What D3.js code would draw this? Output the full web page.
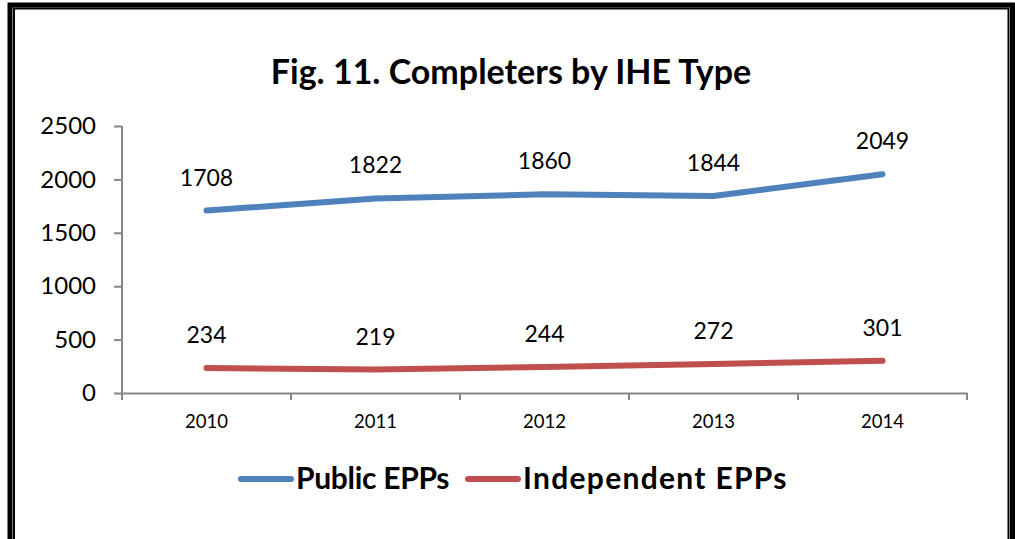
<!DOCTYPE html>
<html><head><meta charset="utf-8">
<script src="https://cdn.jsdelivr.net/npm/d3@7"></script>
<style>body{margin:0;background:#fff}svg{display:block}text{font-family:Lato,"Open Sans",sans-serif}</style>
</head><body><svg id="c" width="1015" height="539"></svg>
<script>
const categories = ["2010","2011","2012","2013","2014"];
const publicEPPs = [1708,1822,1860,1844,2049];
const independentEPPs = [234,219,244,272,301];
const yTicks = [0,500,1000,1500,2000,2500];
const seriesNames = ["Public EPPs","Independent EPPs"];
const colors = ["#4F81BD","#C0504D"];
const title = "Fig. 11. Completers by IHE Type";

const svg = d3.select("#c");
svg.append("rect").attr("x",0).attr("y",0).attr("width",1015).attr("height",539).attr("fill","#fff");
svg.append("path").attr("d","M10,545 V5 H1012.5 V545").attr("fill","none").attr("stroke","#000").attr("stroke-width",5);
svg.append("path").attr("d","M14,545 V8.5 H1008.5 V545").attr("fill","none").attr("stroke","#000").attr("stroke-width",2);

svg.append("text").attr("x",511).attr("y",84).attr("text-anchor","middle")
  .attr("font-size",34).attr("font-weight","bold").text(title);

const x = d3.scaleBand().domain(categories).range([122,967]);
const y = d3.scaleLinear().domain([0,2500]).range([393,126]);

const yAxis = svg.append("g").attr("transform","translate(122,0)")
  .call(d3.axisLeft(y).tickValues(yTicks).tickFormat(d3.format("d")).tickSize(8).tickSizeOuter(0).tickPadding(18));
const xAxis = svg.append("g").attr("transform","translate(0,393)")
  .call(d3.axisBottom(x).tickSize(0).tickPadding(22));
[yAxis,xAxis].forEach(g=>{g.selectAll("path,line").attr("stroke","#868686").attr("stroke-width",2);});
yAxis.select(".domain").attr("d","M0,126V393");
yAxis.selectAll("text").attr("font-size",24).attr("fill","#000").style("font-family","Lato,sans-serif");
xAxis.selectAll("text").attr("font-size",18.5).attr("fill","#000").style("font-family","Lato,sans-serif");
const bounds = categories.map(c=>x(c)).concat([x.range()[1]]);
xAxis.selectAll(".bt").data(bounds).enter().append("line")
  .attr("x1",d=>d).attr("x2",d=>d).attr("y1",0).attr("y2",7)
  .attr("stroke","#868686").attr("stroke-width",2);

const cx = c => x(c)+x.bandwidth()/2;
const line = d3.line().x((d,i)=>cx(categories[i])).y(d=>y(d));
[publicEPPs,independentEPPs].forEach((s,k)=>{
  svg.append("path").datum(s).attr("d",line).attr("fill","none")
    .attr("stroke",colors[k]).attr("stroke-width",6).attr("stroke-linecap","round").attr("stroke-linejoin","round");
  svg.selectAll(null).data(s).enter().append("text")
    .attr("x",(d,i)=>cx(categories[i])).attr("y",d=>y(d)-25)
    .attr("text-anchor","middle").attr("font-size",23).text(d=>d);
});

const legX = [241,468];
const legSpacing = [-0.3,1.3];
seriesNames.forEach((n,k)=>{
  svg.append("line").attr("x1",legX[k]).attr("x2",legX[k]+50).attr("y1",479).attr("y2",479)
    .attr("stroke",colors[k]).attr("stroke-width",6).attr("stroke-linecap","round");
  svg.append("text").attr("x",legX[k]+55).attr("y",489).attr("font-size",30).attr("font-weight","bold")
    .attr("letter-spacing",legSpacing[k]).text(n);
});
</script></body></html>
